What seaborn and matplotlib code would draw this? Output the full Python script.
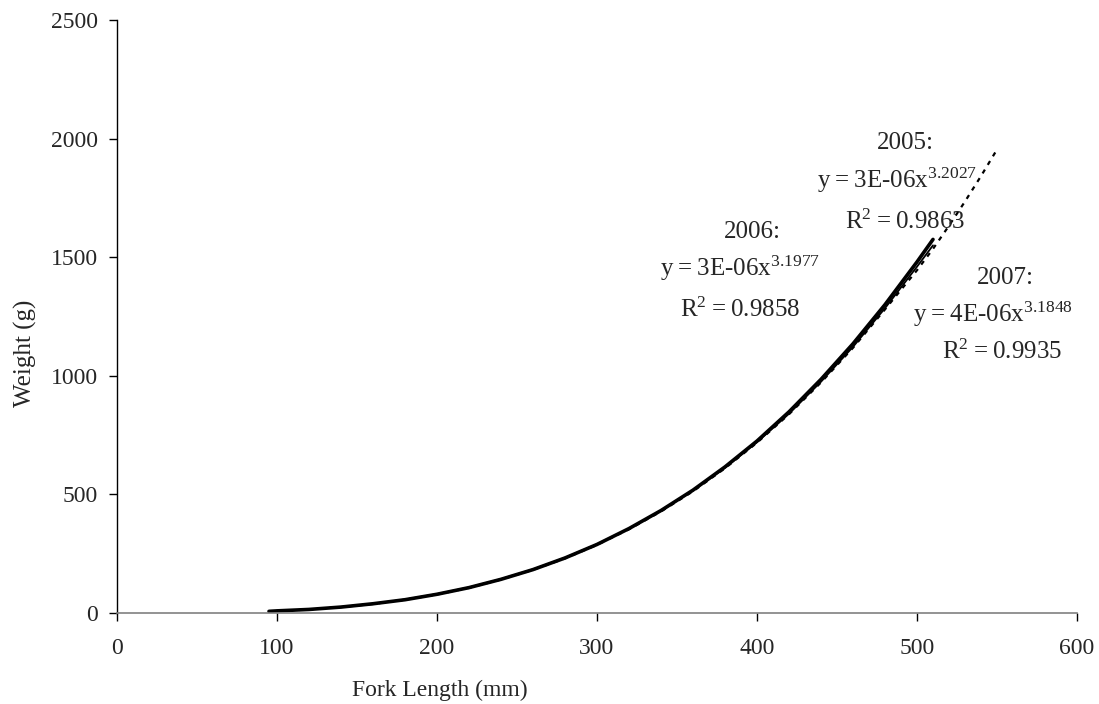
import matplotlib
matplotlib.use("Agg")
import matplotlib.pyplot as plt
import seaborn as sns
import pandas as pd

# ---- data ----
fork_len = [95, 100, 120, 140, 160, 180, 200, 220, 240, 260, 280, 300, 320,
            340, 360, 380, 400, 420, 440, 460, 480, 500, 510]
w_2006 = [7, 9, 15, 25, 39, 56, 79, 107, 142, 183, 232, 289, 356,
          432, 518, 616, 725, 848, 985, 1135, 1300, 1480, 1575]
w_2007 = [7, 9, 15, 25, 39, 57, 80, 108, 143, 184, 233, 290, 356,
          431, 516, 612, 720, 840, 975, 1122, 1285, 1460, 1550]
fork_len_2005 = fork_len + [520, 530, 540, 550]
w_2005 = [7, 8, 15, 25, 38, 56, 78, 106, 141, 182, 230, 287, 353,
          428, 513, 610, 718, 838, 972, 1118, 1280, 1445, 1535,
          1633, 1735, 1842, 1954]

TS = "\u2009"
labels_2005 = ["2005:", f"y{TS}={TS}3E-06x$^{{3.2027}}$", f"R$^2${TS}={TS}0.9863"]
labels_2006 = ["2006:", f"y{TS}={TS}3E-06x$^{{3.1977}}$", f"R$^2${TS}={TS}0.9858"]
labels_2007 = ["2007:", f"y{TS}={TS}4E-06x$^{{3.1848}}$", f"R$^2${TS}={TS}0.9935"]

x_ticks = [0, 100, 200, 300, 400, 500, 600]
y_ticks = [0, 500, 1000, 1500, 2000, 2500]

sns.set_style("white")
plt.rcParams["font.family"] = ["Liberation Serif", "DejaVu Serif"]
plt.rcParams["mathtext.fontset"] = "custom"
plt.rcParams["mathtext.rm"] = "Liberation Serif"
plt.rcParams["mathtext.it"] = "Liberation Serif"
plt.rcParams["mathtext.default"] = "regular"

fig = plt.figure(figsize=(10.99, 7.04), dpi=100)
ax = fig.add_axes([117 / 1099, 1 - 613 / 704, (1077 - 117) / 1099, (613 - 20) / 704])

df5 = pd.DataFrame({"x": fork_len_2005, "y": w_2005})
df6 = pd.DataFrame({"x": fork_len, "y": w_2006})
df7 = pd.DataFrame({"x": fork_len, "y": w_2007})

sns.lineplot(data=df5, x="x", y="y", ax=ax, color="black", lw=1.6,
             linestyle=(0, (2, 2.5)), estimator=None, sort=False)
sns.lineplot(data=df6, x="x", y="y", ax=ax, color="black", lw=2.6,
             estimator=None, sort=False)
sns.lineplot(data=df7, x="x", y="y", ax=ax, color="black", lw=1.3,
             estimator=None, sort=False)

ax.set_xlim(0, 600)
ax.set_ylim(0, 2500)
ax.set_xticks(x_ticks)
ax.set_yticks(y_ticks)
ax.set_xticklabels([str(v) for v in x_ticks], fontsize=17)
ax.set_yticklabels([str(v) for v in y_ticks], fontsize=17)
ax.tick_params(axis="both", direction="out", length=6, width=1, color="black",
               bottom=True, left=True, pad=8)
ax.tick_params(axis="x", pad=12)
for side in ["top", "right"]:
    ax.spines[side].set_visible(False)
ax.spines["left"].set_color("black")
ax.spines["left"].set_linewidth(1.0)
ax.spines["bottom"].set_color("#808080")
ax.spines["bottom"].set_linewidth(1.2)

ax.set_xlabel("")
ax.set_ylabel("")
fig.text(440 / 1099, 1 - 690 / 704, "Fork Length (mm)", fontsize=17,
         ha="center", va="center")
fig.text(25 / 1099, 1 - 353 / 704, "Weight (g)", fontsize=18, rotation=90,
         ha="center", va="center")

def block(lines, positions):
    for t, (px, py) in zip(lines, positions):
        fig.text(px / 1099, 1 - py / 704, t, fontsize=18, ha="center", va="center")

block(labels_2005, [(905, 143), (897, 180), (905, 222)])
block(labels_2006, [(752, 232), (740, 268), (740, 310)])
block(labels_2007, [(1005, 278), (993, 314), (1002, 352)])

fig.savefig("out.png", dpi=100)
